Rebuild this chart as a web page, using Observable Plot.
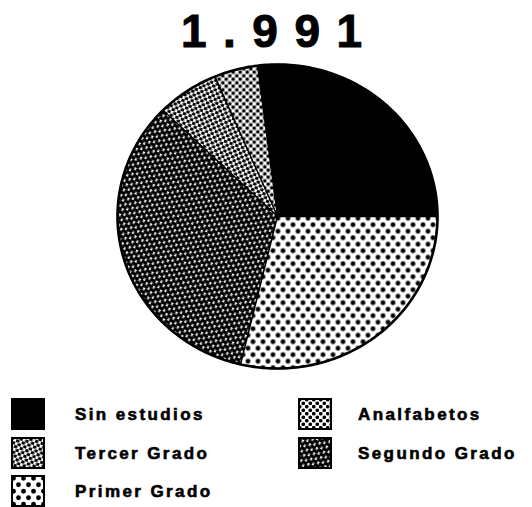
<!DOCTYPE html>
<html>
<head>
<meta charset="utf-8">
<script src="https://cdn.jsdelivr.net/npm/d3@7"></script>
<script src="https://cdn.jsdelivr.net/npm/@observablehq/plot@0.6"></script>
<style>
  html, body { margin: 0; padding: 0; background: #fff; }
  #wrap { position: relative; width: 532px; height: 507px; overflow: hidden; font-family: "Liberation Sans", Arial, sans-serif; }
  #chart { position: absolute; left: 0; top: 0; }
  #title { position: absolute; left: 181px; top: 8px; font-size: 46px; line-height: 46px; font-weight: bold; letter-spacing: 16.5px; color: #000; white-space: nowrap; -webkit-text-stroke: 1px #000; }
  .item { position: absolute; height: 30px; }
  .sw { position: absolute; left: 0; top: 0; }
  .lab { position: absolute; top: 0; height: 34px; line-height: 34px; font-size: 17px; font-weight: bold; letter-spacing: 2.4px; color: #000; white-space: nowrap; -webkit-text-stroke: 0.6px #000; }
</style>
</head>
<body>
<svg width="0" height="0" style="position:absolute">
  <defs>
    <pattern id="p-analf" patternUnits="userSpaceOnUse" width="7" height="7">
      <rect width="7" height="7" fill="#fff"/>
      <circle cx="1.75" cy="1.75" r="1.85" fill="#000"/>
      <circle cx="5.25" cy="5.25" r="1.85" fill="#000"/>
    </pattern>
    <pattern id="p-tercer" patternUnits="userSpaceOnUse" width="6" height="6" patternTransform="rotate(20)">
      <rect width="6" height="6" fill="#fff"/>
      <ellipse cx="1.5" cy="1.5" rx="2.1" ry="1.6" fill="#000"/>
      <ellipse cx="4.5" cy="4.5" rx="2.1" ry="1.6" fill="#000"/>
    </pattern>
    <pattern id="p-segundo" patternUnits="userSpaceOnUse" width="8" height="6" patternTransform="rotate(28)">
      <rect width="8" height="6" fill="#fff"/>
      <ellipse cx="2" cy="1.5" rx="3.2" ry="2.0" fill="#000"/>
      <ellipse cx="6" cy="4.5" rx="3.2" ry="2.0" fill="#000"/>
      <ellipse cx="10" cy="1.5" rx="3.2" ry="2.0" fill="#000"/>
      <ellipse cx="-2" cy="4.5" rx="3.2" ry="2.0" fill="#000"/>
    </pattern>
    <pattern id="p-primer" patternUnits="userSpaceOnUse" width="10" height="13">
      <rect width="10" height="13" fill="#fff"/>
      <circle cx="2.5" cy="3.25" r="2.4" fill="#000"/>
      <circle cx="7.5" cy="9.75" r="2.4" fill="#000"/>
    </pattern>
  </defs>
</svg>
<div id="wrap">
  <div id="chart"></div>
  <div id="title"></div>
  <div id="legend"></div>
</div>
<script>
// ---- data ----
const titleText = "1.991";
const categories = ["Sin estudios", "Analfabetos", "Tercer Grado", "Segundo Grado", "Primer Grado"];
const values = [27.0, 4.4, 6.3, 33.6, 28.7];

// ---- styles ----
const fills = {
  "Sin estudios": "#000",
  "Analfabetos": "url(#p-analf)",
  "Tercer Grado": "url(#p-tercer)",
  "Segundo Grado": "url(#p-segundo)",
  "Primer Grado": "url(#p-primer)"
};

// pie geometry: start at 3 o'clock, go counterclockwise
const arcs = d3.pie().sort(null)
  .startAngle(Math.PI / 2)
  .endAngle(Math.PI / 2 - 2 * Math.PI)(values);

const slices = arcs.map((a, i) => {
  const cat = categories[i];
  const n = Math.max(8, Math.ceil(Math.abs(a.endAngle - a.startAngle) / (Math.PI / 180)));
  const pts = [{cat, x: 0, y: 0, rim: false}];
  for (let j = 0; j <= n; j++) {
    const t = a.startAngle + (a.endAngle - a.startAngle) * j / n;
    pts.push({cat, x: Math.sin(t), y: Math.cos(t), rim: true});
  }
  pts.push({cat, x: 0, y: 0, rim: false});
  return pts;
});
const rim = slices.flat().filter(d => d.rim);

const W = 532, H = 507;
const chart = Plot.plot({
  width: W,
  height: H,
  marginLeft: 117,
  marginRight: 95,
  marginTop: 64,
  marginBottom: 139,
  x: {domain: [-1, 1], axis: null},
  y: {domain: [-1, 1], axis: null},
  style: {background: "transparent"},
  marks: [
    ...slices.map(s => Plot.line(s, {
      x: "x", y: "y",
      fill: fills[s[0].cat],
      stroke: "#000",
      strokeWidth: 1.3,
      strokeLinejoin: "round"
    })),
    Plot.line(rim, {x: "x", y: "y", stroke: "#000", strokeWidth: 2.6, fill: "none"})
  ]
});
document.getElementById("chart").appendChild(chart);

document.getElementById("title").textContent = titleText;

// legend: two columns, row-major
const colSw = [11, 298], colTx = [75, 358], rowTop = [398, 437, 475];
const legend = d3.select("#legend");
categories.forEach((c, i) => {
  const col = i % 2, row = Math.floor(i / 2);
  const item = legend.append("div").attr("class", "item")
    .style("left", "0px").style("top", rowTop[row] + "px");
  const sw = item.append("svg").attr("class", "sw")
    .attr("width", 34).attr("height", 32)
    .style("left", colSw[col] + "px");
  sw.append("rect").attr("x", 1).attr("y", 1).attr("width", 32).attr("height", 30)
    .attr("fill", fills[c]).attr("stroke", "#000").attr("stroke-width", 2);
  item.append("div").attr("class", "lab")
    .style("left", colTx[col] + "px")
    .text(c);
});
</script>
</body>
</html>
